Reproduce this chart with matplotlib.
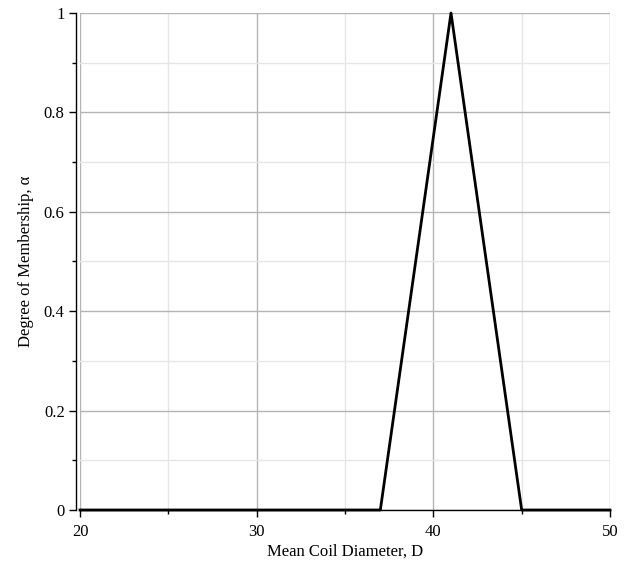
import matplotlib
matplotlib.use("Agg")
import matplotlib.pyplot as plt
from matplotlib.ticker import MultipleLocator

x_vals = [20, 37, 41, 45, 50]
alpha_vals = [0, 0, 1, 0, 0]
x_label = "Mean Coil Diameter, D"
y_label = "Degree of Membership, α"

plt.rcParams['font.family'] = ['Liberation Serif', 'DejaVu Serif']

fig = plt.figure(figsize=(6.28, 5.67), dpi=100)
ax = fig.add_axes([80/628, (567-510)/567, (610-80)/628, (510-13)/567])

ax.plot(x_vals, alpha_vals, color='black', lw=2.0, zorder=5, clip_on=False)
ax.set_xlim(20, 50)
ax.set_ylim(0, 1)
ax.xaxis.set_major_locator(MultipleLocator(10))
ax.xaxis.set_minor_locator(MultipleLocator(5))
ax.yaxis.set_major_locator(MultipleLocator(0.2))
ax.yaxis.set_minor_locator(MultipleLocator(0.1))
ax.yaxis.set_major_formatter(matplotlib.ticker.FuncFormatter(lambda v, p: f"{v:g}"))
ax.grid(which='major', color='#b4b4b4', lw=1.0)
ax.grid(which='minor', color='#e6e6e6', lw=1.0)
ax.set_axisbelow(True)
for s in ['top', 'right']:
    ax.spines[s].set_visible(False)
ax.spines['left'].set_position(('outward', 3))
ax.spines['left'].set_linewidth(1.0)
ax.spines['bottom'].set_linewidth(1.0)
ax.tick_params(which='major', length=5, width=1, labelsize=12, pad=3)
ax.tick_params(which='minor', length=3, width=1)
ax.tick_params(axis='x', which='major', pad=5)
ax.set_xlabel(x_label, fontsize=12, labelpad=3)
ax.set_ylabel(y_label, fontsize=12, labelpad=7)

fig.savefig("out.png", dpi=100, facecolor='white')
